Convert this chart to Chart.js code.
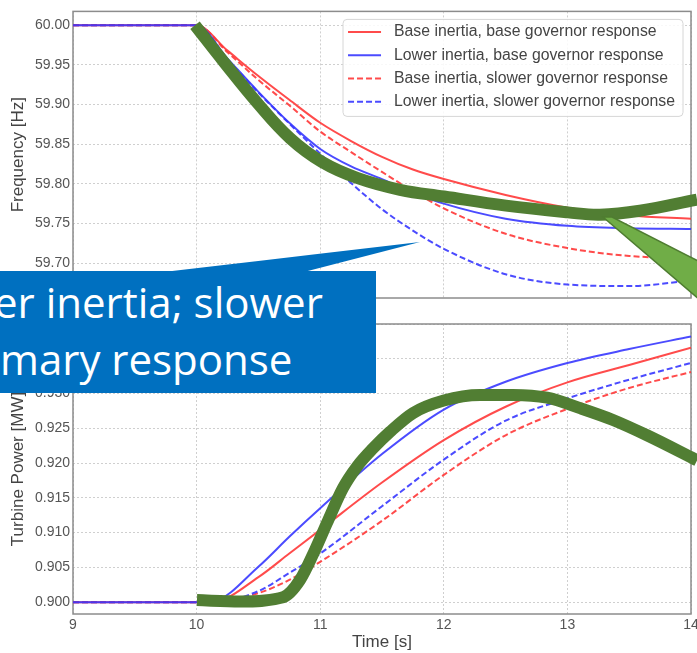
<!DOCTYPE html>
<html lang="en">
<head>
<meta charset="UTF-8">
<title>Frequency and turbine power</title>
<style>
  body { margin: 0; background: #fff; width: 697px; height: 653px; overflow: hidden; position: relative; }
  canvas { position: absolute; left: 0; }
  #freq { top: 0; }
  #power { top: 312px; }
  svg { position: absolute; left: 0; top: 0; }
  #callout { position: absolute; left: 0; top: 271px; width: 376px; height: 122px; background: #0070c0; color: #fff;
             font-family: "Open Sans", sans-serif; font-size: 42px; line-height: 57px; overflow: hidden; }
  #callout div { position: absolute; white-space: nowrap; }
</style>
</head>
<body>
<canvas id="freq" width="697" height="310"></canvas>
<canvas id="power" width="697" height="341"></canvas>
<svg width="697" height="653">
  <polygon points="155,273 420,242 300,273" fill="#0070c0"/>
  <polygon points="603,217 612,217 700,262 700,300" fill="#70ad47" stroke="#4f7d31" stroke-width="1.5"/>
</svg>
<div id="callout">
  <div style="left:-6px; top:2px">er inertia; slower</div>
  <div style="left:0; top:59px">mary response</div>
</div>

<script src="https://cdn.jsdelivr.net/npm/chart.js"></script>
<script>
// legend labels
const seriesLabels = [
  'Base inertia, base governor response',
  'Lower inertia, base governor response',
  'Base inertia, slower governor response',
  'Lower inertia, slower governor response'
];

// frequency [Hz] vs time [s]
const tFreq     = [9, 10, 10.25, 10.5, 10.75, 11, 11.25, 11.5, 11.75, 12, 12.5, 13, 13.5, 14];
const fBaseBase = [60, 60, 59.968, 59.936, 59.906, 59.877, 59.854, 59.834, 59.818, 59.806, 59.786, 59.770, 59.760, 59.756];
const fLowBase  = [60, 60, 59.958, 59.916, 59.877, 59.844, 59.822, 59.806, 59.789, 59.775, 59.756, 59.747, 59.744, 59.743];
const fBaseSlow = [60, 60, 59.966, 59.931, 59.899, 59.866, 59.840, 59.815, 59.791, 59.769, 59.737, 59.719, 59.709, 59.706];
const fLowSlow  = [60, 60, 59.957, 59.915, 59.876, 59.838, 59.801, 59.768, 59.741, 59.718, 59.686, 59.673, 59.671, 59.678];

// turbine power [MW] vs time [s]
const tPower    = [9, 10, 10.15, 10.5, 10.75, 11, 11.5, 12, 12.5, 13, 13.5, 14];
const pBaseBase = [0.9, 0.9, 0.9001, 0.9036, 0.9070, 0.9104, 0.9172, 0.9233, 0.9281, 0.9316, 0.9341, 0.9366];
const pLowBase  = [0.9, 0.9, 0.9002, 0.9051, 0.9094, 0.9135, 0.9213, 0.9277, 0.9317, 0.9344, 0.9364, 0.9382];
const pBaseSlow = [0.9, 0.9, 0.9000, 0.9013, 0.9032, 0.9058, 0.9117, 0.9183, 0.9240, 0.9278, 0.9308, 0.9331];
const pLowSlow  = [0.9, 0.9, 0.9000, 0.9016, 0.9042, 0.9070, 0.9138, 0.9205, 0.9261, 0.9293, 0.9320, 0.9344];

// hand-drawn green annotation strokes (in data units)
const gFreqT = [9.987, 10.214, 10.489, 10.756, 11.015, 11.298, 11.646, 12.002, 12.503, 13.005, 13.264, 13.587, 14.049];
const gFreqV = [60.0, 59.955, 59.9025, 59.8575, 59.8275, 59.8075, 59.7925, 59.784, 59.7725, 59.764, 59.761, 59.766, 59.78];
const gPowT  = [10.003, 10.351, 10.699, 10.837, 10.958, 11.055, 11.184, 11.298, 11.427, 11.565, 11.751, 12.0, 12.293, 12.56, 12.835, 13.102, 13.369, 13.644, 14.049];
const gPowV  = [0.9003, 0.9001, 0.9007, 0.9032, 0.9075, 0.9114, 0.9164, 0.9195, 0.9221, 0.9245, 0.9272, 0.9290, 0.9298, 0.9298, 0.9294, 0.9279, 0.9262, 0.924, 0.9204];

const xTicks = [9, 10, 11, 12, 13, 14];

const RED = 'rgba(255,55,55,0.9)';
const BLUE = 'rgba(55,55,255,0.9)';
const GREEN = '#517e33';
const styles = [
  { color: RED, dash: [] },
  { color: BLUE, dash: [] },
  { color: RED, dash: [6, 3] },
  { color: BLUE, dash: [6, 3] }
];

Chart.defaults.font.family = '"Liberation Sans", Arial, sans-serif';
Chart.defaults.color = '#555';

function pts(xs, ys) {
  return xs.map((x, i) => ({ x: x, y: ys[i] }));
}

function seriesSets(t, list) {
  return list.map((ys, i) => ({
    label: seriesLabels[i],
    data: pts(t, ys),
    borderColor: styles[i].color,
    borderDash: styles[i].dash,
    borderWidth: 2,
    pointRadius: 0,
    cubicInterpolationMode: 'monotone',
    order: 4 - i
  }));
}

function greenSet(t, ys, smooth) {
  var ds = {
    label: 'annotation',
    data: pts(t, ys),
    borderColor: GREEN,
    borderWidth: 12,
    pointRadius: 0,
    clip: false,
    order: 0
  };
  if (smooth) ds.tension = 0.4;
  else ds.cubicInterpolationMode = 'monotone';
  return ds;
}

// gray box round the plot area
const frame = {
  id: 'frame',
  beforeDatasetsDraw(chart) {
    const a = chart.chartArea, ctx = chart.ctx;
    ctx.save();
    ctx.strokeStyle = '#8c8c8c';
    ctx.lineWidth = 1.5;
    ctx.strokeRect(a.left, a.top, a.right - a.left, a.bottom - a.top);
    ctx.restore();
  }
};

// matplotlib style legend in the upper right corner
const legendBox = {
  id: 'legendBox',
  afterDatasetsDraw(chart) {
    const a = chart.chartArea, ctx = chart.ctx;
    ctx.save();
    ctx.font = '15.8px "Liberation Sans", Arial, sans-serif';
    var tw = Math.max(...seriesLabels.map(s => ctx.measureText(s).width));
    var w = 51 + tw + 8, h = 97;
    var bx = a.right - 8 - w, by = a.top + 8;
    ctx.beginPath();
    ctx.roundRect(bx, by, w, h, 4);
    ctx.fillStyle = 'rgba(255,255,255,0.85)';
    ctx.fill();
    ctx.strokeStyle = '#d6d6d6';
    ctx.lineWidth = 1;
    ctx.stroke();
    seriesLabels.forEach((s, i) => {
      var y = by + 12.5 + i * 23.3;
      ctx.beginPath();
      ctx.setLineDash(styles[i].dash);
      ctx.strokeStyle = styles[i].color;
      ctx.lineWidth = 2;
      ctx.moveTo(bx + 5, y);
      ctx.lineTo(bx + 38, y);
      ctx.stroke();
      ctx.setLineDash([]);
      ctx.fillStyle = '#444';
      ctx.textBaseline = 'middle';
      ctx.fillText(s, bx + 51, y);
    });
    ctx.restore();
  }
};

function makeChart(id, datasets, yOpts, showX, xHeight, padTop, extraPlugins) {
  return new Chart(document.getElementById(id), {
    type: 'line',
    data: { datasets: datasets },
    options: {
      responsive: false,
      animation: false,
      layout: { padding: { top: padTop, right: 6, bottom: 0, left: 0 } },
      plugins: { legend: { display: false }, tooltip: { enabled: false } },
      scales: {
        x: {
          type: 'linear',
          min: 9, max: 14,
          afterBuildTicks: s => { s.ticks = xTicks.map(v => ({ value: v })); },
          ticks: { display: showX, padding: 3, font: { size: 14 }, color: '#555' },
          grid: { color: '#cfcfcf', drawTicks: false },
          border: { display: false, dash: [2, 2] },
          title: { display: showX, text: 'Time [s]', font: { size: 17 }, color: '#444', padding: { top: 0, bottom: 0 } },
          afterFit: s => { s.height = xHeight; s.paddingLeft = 0; s.paddingRight = 0; }
        },
        y: {
          min: yOpts.min, max: yOpts.max,
          ticks: { stepSize: yOpts.step, includeBounds: false, padding: 3, font: { size: 14 }, color: '#555',
                   callback: v => v.toFixed(yOpts.digits) },
          grid: { color: '#cfcfcf', drawTicks: false },
          border: { display: false, dash: [2, 2] },
          title: { display: true, text: yOpts.title, font: { size: 17 }, color: '#444', padding: { top: 8, bottom: 0 } },
          afterFit: s => { s.width = 73; }
        }
      }
    },
    plugins: [frame].concat(extraPlugins)
  });
}

makeChart('freq',
  seriesSets(tFreq, [fBaseBase, fLowBase, fBaseSlow, fLowSlow]).concat([greenSet(gFreqT, gFreqV, true)]),
  { min: 59.656, max: 60.0175, step: 0.05, digits: 2, title: 'Frequency [Hz]' },
  false, 12, 8, [legendBox]);

makeChart('power',
  seriesSets(tPower, [pBaseBase, pLowBase, pBaseSlow, pLowSlow]).concat([greenSet(gPowT, gPowV, false)]),
  { min: 0.8983, max: 0.940, step: 0.005, digits: 3, title: 'Turbine Power [MW]' },
  true, 39, 12, []);
</script>
</body>
</html>
